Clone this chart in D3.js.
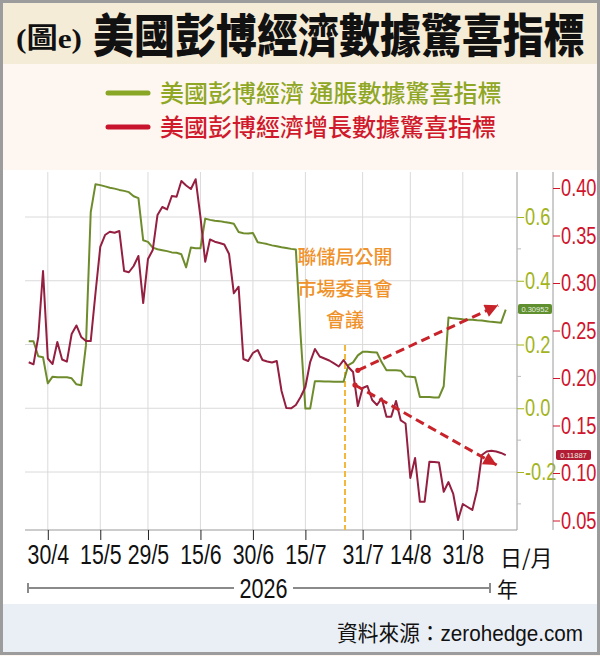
<!DOCTYPE html>
<html><head><meta charset="utf-8">
<script src="https://cdn.jsdelivr.net/npm/d3@7"></script>
<style>body{margin:0;background:#fff}svg{display:block}</style>
</head><body>
<svg id="c" width="600" height="656"></svg>
<script>
// ---- data ----
const startDay = -4; // trading-day index of first observation (30/4 = 0)
const tickLabels = ["30/4","15/5","29/5","15/6","30/6","15/7","31/7","14/8","31/8"];
const tickDays = [0,11,21,32,43,54,66,76,87];
const inflationSurprise = [
 0.210,0.210,0.163,0.160,
 0.078,0.099,0.097,0.097,0.097,0.094,0.075,0.072,0.198,0.615,
 0.703,0.700,0.696,0.692,0.689,0.685,0.682,0.678,0.665,0.659,
 0.527,0.522,0.504,0.499,0.496,0.493,0.489,0.488,0.483,0.442,
 0.504,0.502,0.502,0.595,0.591,0.588,0.587,0.584,0.582,0.579,
 0.553,0.549,0.548,0.550,0.521,0.518,0.515,0.511,0.508,0.505,
 0.503,0.500,0.498,0.229,-0.001,-0.001,0.085,0.085,0.084,0.084,
 0.083,0.083,0.083,0.135,0.144,0.166,0.177,0.177,0.176,0.175,
 0.144,0.119,0.119,0.119,0.118,0.100,0.099,0.097,0.035,0.035,
 0.035,0.034,0.034,0.069,0.285,0.282,0.281,0.279,0.278,0.278,
 0.276,0.275,0.273,0.271,0.270,0.268,0.30952];
const growthSurprise = [
 0.2166,0.2144,0.2432,0.3126,
 0.2205,0.2147,0.2379,0.2195,0.2172,0.2463,0.2553,0.2432,0.2389,0.2389,
 0.2895,0.3379,0.3505,0.3540,0.3529,0.3547,0.3126,0.3113,0.3179,0.3284,
 0.2789,0.3253,0.3347,0.3716,0.3800,0.3774,0.3916,0.3908,0.4074,0.4026,
 0.3989,0.4092,0.3695,0.3224,0.3458,0.3435,0.3421,0.3405,0.3305,0.2892,
 0.2961,0.2200,0.2179,0.2263,0.2295,0.2189,0.2174,0.2163,0.2179,0.1863,
 0.1684,0.1681,0.1716,0.1800,0.1905,0.2168,0.2305,0.2226,0.2205,0.2184,
 0.2153,0.2121,0.2189,0.2116,0.2063,0.1705,0.1895,0.1916,0.1768,0.1716,
 0.1786,0.1593,0.1593,0.1758,0.1553,0.1521,0.0947,0.1158,0.0698,0.0698,
 0.1119,0.1116,0.1111,0.0803,0.0905,0.0779,0.0505,0.0674,0.0642,0.0611,
 0.0821,0.1189,0.1226,0.1235,0.1226,0.1211,0.11887];
const greenTicks = [0.6,0.4,0.2,0.0,-0.2];
const greenMinor = [0.5,0.3,0.1,-0.1,-0.3];
const redTicks = [0.40,0.35,0.30,0.25,0.20,0.15,0.10,0.05];
const seriesNames = ["美國彭博經濟 通脹數據驚喜指標","美國彭博經濟增長數據驚喜指標"];
const fomcDay = 62.3;
const fomcText = ["聯儲局公開","市場委員會","會議"];
const upArrowDays = [65.0, 94.4], upArrowVals = [0.119, 0.323];     // on inflation axis
const downArrowDays = [64.4, 94.1], downArrowVals = [0.1926, 0.1084]; // on growth axis

// ---- styles ----
const CJK = "'Noto Sans CJK TC','Noto Sans CJK SC',sans-serif";
const SANS = "'Liberation Sans',Arial,sans-serif";
const GREEN_LINE = "#6f8c2c", RED_LINE = "#941f40";
const GREEN_TXT = "#a3b41e", RED_TXT = "#d0142c";
// condense / stretch text about its anchor point
function narrow(sel, f, fy){
  fy = fy || 1;
  sel.each(function(){
    const x0 = +(this.getAttribute("x") || 0), y0 = +(this.getAttribute("y") || 0);
    d3.select(this).attr("transform", `translate(${x0*(1-f)},${y0*(1-fy)}) scale(${f},${fy})`);
  });
}
function fitWidth(sel, target, fy){
  sel.each(function(){
    const w = this.getComputedTextLength();
    narrow(d3.select(this), target / w, fy);
  });
}

const svg = d3.select("#c");
// backgrounds
svg.append("rect").attr("width",600).attr("height",656).attr("fill","#fdf6f1");
svg.append("rect").attr("x",0).attr("y",0).attr("width",600).attr("height",64).attr("fill","#f5ecd7");
svg.append("rect").attr("x",3).attr("y",170).attr("width",594).attr("height",434).attr("fill","#ffffff");
svg.append("rect").attr("x",3).attr("y",604).attr("width",594).attr("height",49).attr("fill","#eaeff5");
svg.append("rect").attr("x",1.5).attr("y",1.5).attr("width",597).attr("height",652).attr("fill","none").attr("stroke","#9c9c9c").attr("stroke-width",3);

// title
svg.append("text").attr("x",16).attr("y",48).attr("font-family","'Liberation Serif',"+CJK).attr("font-weight",700)
  .attr("font-size",28).attr("fill","#111").text("(圖e)").call(fitWidth,66);
svg.append("text").attr("x",93).attr("y",52).attr("font-family",CJK).attr("font-weight",900)
  .attr("font-size",41).attr("fill","#111").text("美國彭博經濟數據驚喜指標").call(fitWidth,492,1.12);

// legend
const legend = [{name:seriesNames[0],line:"#8aa626",txt:"#8fa724",y:93},{name:seriesNames[1],line:"#c8142c",txt:"#d01a2c",y:127}];
legend.forEach(l=>{
  svg.append("line").attr("x1",108).attr("x2",148).attr("y1",l.y).attr("y2",l.y).attr("stroke",l.line).attr("stroke-width",5).attr("stroke-linecap","round");
  svg.append("text").attr("x",160).attr("y",l.y+8.5).attr("font-family",CJK).attr("font-weight",500).attr("font-size",24).attr("fill",l.txt).text(l.name);
});

// scales
const x = d3.scaleLinear().domain([0,87]).range([47.8,462.8]);
const yG = d3.scaleLinear().domain([-0.2,0.6]).range([472,217]);
const yR = d3.scaleLinear().domain([0.05,0.40]).range([520.5,188]);
const plotTop = 172, plotBottom = 530, plotLeft = 25, plotRight = 517;

// gridlines
const grid = svg.append("g").attr("stroke","#dadada").attr("stroke-width",1);
tickDays.forEach(d=>grid.append("line").attr("x1",x(d)).attr("x2",x(d)).attr("y1",plotTop).attr("y2",plotBottom));
greenTicks.forEach(v=>grid.append("line").attr("x1",plotLeft).attr("x2",plotRight).attr("y1",yG(v)).attr("y2",yG(v)));

// bottom axis
const xAxis = d3.axisBottom(x).tickValues(tickDays).tickFormat((d,i)=>tickLabels[i]).tickSize(10).tickPadding(5);
const gx = svg.append("g").attr("transform",`translate(0,${plotBottom})`).call(xAxis);
gx.select(".domain").attr("d",`M${plotLeft},0H${plotRight}`).attr("stroke","#999");
gx.selectAll(".tick line").attr("stroke","#222");
gx.selectAll("text").attr("font-family",SANS).attr("font-size",27).attr("fill","#111").call(narrow,0.79);

// right axes
const gAxis = d3.axisRight(yG).tickValues(greenTicks).tickFormat(d=>d.toFixed(1)).tickSize(7).tickPadding(1);
const gg = svg.append("g").attr("transform",`translate(${plotRight},0)`).call(gAxis);
gg.select(".domain").attr("d",`M0,${plotTop}V${plotBottom}`).attr("stroke","#9a9a9a");
gg.selectAll(".tick line").attr("stroke",GREEN_TXT);
gg.selectAll("text").attr("font-family",SANS).attr("font-size",24).attr("fill",GREEN_TXT).call(narrow,0.76);
greenMinor.filter(v=>yG(v)<plotBottom).forEach(v=>gg.append("line").attr("x1",0).attr("x2",4).attr("y1",yG(v)).attr("y2",yG(v)).attr("stroke","#bbb"));

const rAxis = d3.axisRight(yR).tickValues(redTicks).tickFormat(d=>d.toFixed(2)).tickSize(7).tickPadding(1);
const gr = svg.append("g").attr("transform","translate(553,0)").call(rAxis);
gr.select(".domain").attr("d",`M0,${plotTop}V${plotBottom}`).attr("stroke","#9a9a9a");
gr.selectAll(".tick line").attr("stroke",RED_TXT);
gr.selectAll("text").attr("font-family",SANS).attr("font-size",24).attr("fill",RED_TXT).call(narrow,0.76);

// FOMC marker
svg.append("line").attr("x1",x(fomcDay)).attr("x2",x(fomcDay)).attr("y1",345).attr("y2",plotBottom)
  .attr("stroke","#f3b73c").attr("stroke-width",2).attr("stroke-dasharray","6,3");
fomcText.forEach((t,i)=>svg.append("text").attr("x",x(fomcDay)).attr("y",264+i*31.5).attr("text-anchor","middle")
  .attr("font-family",CJK).attr("font-weight",500).attr("font-size",19).attr("fill","#f0922a").text(t));

// series lines
const lineG = d3.line().x((d,i)=>x(startDay+i)).y(d=>yG(d));
const lineR = d3.line().x((d,i)=>x(startDay+i)).y(d=>yR(d));
svg.append("path").datum(inflationSurprise).attr("d",lineG).attr("fill","none").attr("stroke",GREEN_LINE).attr("stroke-width",2).attr("stroke-linejoin","round");
svg.append("path").datum(growthSurprise).attr("d",lineR).attr("fill","none").attr("stroke",RED_LINE).attr("stroke-width",2).attr("stroke-linejoin","round");

// arrows
const defs = svg.append("defs");
defs.append("marker").attr("id","ah").attr("viewBox","0 0 10 10").attr("refX",10).attr("refY",5)
  .attr("markerWidth",5).attr("markerHeight",4.4).attr("orient","auto").attr("markerUnits","strokeWidth")
  .append("path").attr("d","M0,0L10,5L0,10Z").attr("fill","#c8232a");
function arrow(days, vals, ys){
  const x1=x(days[0]), y1=ys(vals[0]), x2=x(days[1]), y2=ys(vals[1]);
  svg.append("line").attr("x1",x1).attr("y1",y1).attr("x2",x2).attr("y2",y2)
    .attr("stroke","#c8232a").attr("stroke-width",3).attr("stroke-dasharray","9,5").attr("marker-end","url(#ah)");
  svg.append("circle").attr("cx",x1).attr("cy",y1).attr("r",2.6).attr("fill","#c8232a");
}
arrow(upArrowDays, upArrowVals, yG);
arrow(downArrowDays, downArrowVals, yR);

// last value tags
function tag(xl, yc, w, fill, txt){
  svg.append("rect").attr("x",xl).attr("y",yc-5).attr("width",w).attr("height",10).attr("rx",2).attr("fill",fill);
  svg.append("text").attr("x",xl+w/2).attr("y",yc+2.5).attr("text-anchor","middle").attr("font-family",SANS)
    .attr("font-size",7.5).attr("fill","#e8f0e0").text(txt);
}
const lastG = inflationSurprise[inflationSurprise.length-1], lastR = growthSurprise[growthSurprise.length-1];
tag(518, yG(lastG)-0.5, 34, "#5f8f2e", lastG.toFixed(5));
tag(556, yR(lastR), 35, "#b21c34", lastR.toFixed(5));

// date unit / year
svg.append("text").attr("x",500).attr("y",566).attr("font-family",CJK).attr("font-size",22).attr("fill","#111").text("日/月");
const yearY = 588;
svg.append("line").attr("x1",28).attr("x2",234).attr("y1",yearY).attr("y2",yearY).attr("stroke","#8a8a8a").attr("stroke-width",2);
svg.append("line").attr("x1",293).attr("x2",490).attr("y1",yearY).attr("y2",yearY).attr("stroke","#8a8a8a").attr("stroke-width",2);
[28,490].forEach(xx=>svg.append("line").attr("x1",xx).attr("x2",xx).attr("y1",yearY-5).attr("y2",yearY+5).attr("stroke","#8a8a8a").attr("stroke-width",2));
svg.append("text").attr("x",263.5).attr("y",598).attr("text-anchor","middle").attr("font-family",SANS).attr("font-size",27).attr("fill","#111").text("2026").call(narrow,0.8);
svg.append("text").attr("x",497).attr("y",597).attr("font-family",CJK).attr("font-size",21).attr("fill","#111").text("年");

// source
svg.append("text").attr("x",583).attr("y",641).attr("text-anchor","end").attr("font-family",SANS+","+CJK)
  .attr("font-size",22).attr("fill","#111").text("資料來源：zerohedge.com").call(narrow,0.94);
</script>
</body></html>
